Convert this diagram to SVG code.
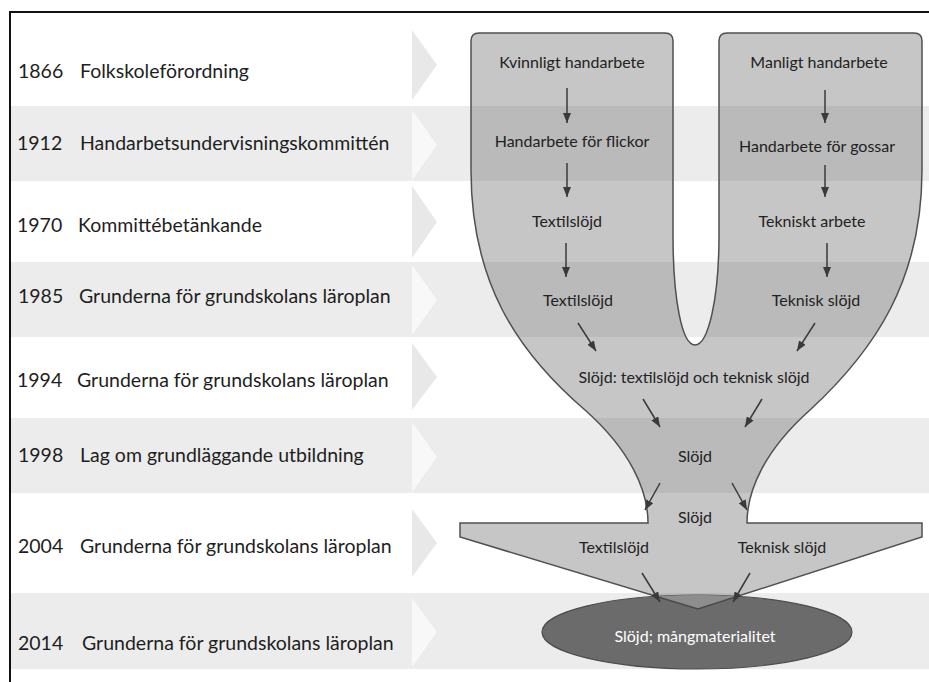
<svg xmlns="http://www.w3.org/2000/svg" width="929" height="682" viewBox="0 0 929 682">
<style>
.band{fill:#ececec}
.chevW{fill:#e8e8e8}
.chevG{fill:#f8f8f8}
.lbl{font-family:Lato,"Liberation Sans",sans-serif;font-size:19.5px;fill:#1e1e1e}
.ft{font-family:Lato,"Liberation Sans",sans-serif;font-size:16px;fill:#222222;text-anchor:middle}
.arr{stroke:#3a3a3a;stroke-width:1.5;fill:none;marker-end:url(#ah)}
</style>
<defs>
<marker id="ah" markerUnits="userSpaceOnUse" markerWidth="10" markerHeight="8" refX="10" refY="4" orient="auto" viewBox="0 0 10 8">
<path d="M0,0 L10,4 L0,8 Z" fill="#3a3a3a"/>
</marker>
<clipPath id="ellClip"><ellipse cx="697" cy="632" rx="155" ry="37"/></clipPath>
<path id="funnelShape" d="M471,41 Q471,33 479,33 L665,33 Q673,33 673,41 L673,235 C673,300 682,345 695,345 C708,345 719,300 719,235 L719,41 Q719,33 727,33 L914,33 Q922,33 922,41 L922,170 C922,280 875,350 810,410 C765,450 747,490 747,523 L922,523 L922,537 L698,609 L460,537 L460,523 L648,523 C648,490 630,450 585,410 C515,350 471,280 471,170 Z"/>
</defs>
<rect x="0" y="0" width="929" height="682" fill="#ffffff"/>
<g id="bands">
<rect class="band" x="11" y="106" width="918" height="75"/>
<rect class="band" x="11" y="262" width="918" height="75"/>
<rect class="band" x="11" y="418" width="918" height="75"/>
<rect class="band" x="11" y="593" width="918" height="76"/>
<polygon class="chevW" points="412,30 437,65 412,100"/>
<polygon class="chevG" points="412,110 437,145 412,180"/>
<polygon class="chevW" points="412,186 437,222 412,258"/>
<polygon class="chevG" points="412,265 437,300 412,335"/>
<polygon class="chevW" points="412,343 437,377 412,410"/>
<polygon class="chevG" points="412,422 437,457 412,492"/>
<polygon class="chevW" points="412,509 437,543 412,577"/>
<polygon class="chevG" points="412,598 437,632 412,667"/>
</g>
<g id="frame">
<path d="M10,682 L10,12 L929,12" fill="none" stroke="#111" stroke-width="2"/>
</g>
<g id="row1866"><text class="lbl" x="18" y="78">1866</text><text class="lbl" x="80" y="78">Folkskoleförordning</text></g>
<g id="row1912"><text class="lbl" x="17" y="150">1912</text><text class="lbl" x="80" y="150">Handarbetsundervisningskommittén</text></g>
<g id="row1970"><text class="lbl" x="17" y="232">1970</text><text class="lbl" x="78" y="232">Kommittébetänkande</text></g>
<g id="row1985"><text class="lbl" x="18" y="303">1985</text><text class="lbl" x="79" y="303">Grunderna för grundskolans läroplan</text></g>
<g id="row1994"><text class="lbl" x="17" y="387">1994</text><text class="lbl" x="77" y="387">Grunderna för grundskolans läroplan</text></g>
<g id="row1998"><text class="lbl" x="18" y="462">1998</text><text class="lbl" x="80" y="462">Lag om grundläggande utbildning</text></g>
<g id="row2004"><text class="lbl" x="18" y="553">2004</text><text class="lbl" x="80" y="553">Grunderna för grundskolans läroplan</text></g>
<g id="row2014"><text class="lbl" x="18" y="650">2014</text><text class="lbl" x="82" y="650">Grunderna för grundskolans läroplan</text></g>
<g id="funnel">
<use href="#funnelShape" fill="#707070" fill-opacity="0.4" stroke="#505050" stroke-width="1.5"/>
</g>
<g id="result">
<ellipse cx="697" cy="632" rx="155" ry="37" fill="#6b6b6b" stroke="#4e4e4e" stroke-width="1.2"/>
<use href="#funnelShape" clip-path="url(#ellClip)" fill="#8d8d8d" stroke="#4a4a4a" stroke-width="1.5"/>
<text class="ft" x="695" y="642" style="fill:#ffffff">Slöjd; mångmaterialitet</text>
</g>
<g id="n-kvinnligt"><text class="ft" x="572" y="68">Kvinnligt handarbete</text></g>
<g id="n-manligt"><text class="ft" x="819" y="68">Manligt handarbete</text></g>
<g id="n-flickor"><text class="ft" x="572" y="147">Handarbete för flickor</text></g>
<g id="n-gossar"><text class="ft" x="817" y="152">Handarbete för gossar</text></g>
<g id="n-textil1970"><text class="ft" x="567" y="227">Textilslöjd</text></g>
<g id="n-tekniskt"><text class="ft" x="812" y="227">Tekniskt arbete</text></g>
<g id="n-textil1985"><text class="ft" x="578" y="306">Textilslöjd</text></g>
<g id="n-teknisk1985"><text class="ft" x="816" y="306">Teknisk slöjd</text></g>
<g id="n-slojd1994"><text class="ft" x="694" y="383">Slöjd: textilslöjd och teknisk slöjd</text></g>
<g id="n-slojd1998"><text class="ft" x="695" y="462">Slöjd</text></g>
<g id="n-slojd2004"><text class="ft" x="695" y="523">Slöjd</text></g>
<g id="n-textil2004"><text class="ft" x="614" y="553">Textilslöjd</text></g>
<g id="n-teknisk2004"><text class="ft" x="782" y="553">Teknisk slöjd</text></g>
<g id="connectors">
<line class="arr" x1="567" y1="88" x2="567" y2="123"/>
<line class="arr" x1="825" y1="90" x2="825" y2="123"/>
<line class="arr" x1="567" y1="163" x2="567" y2="197"/>
<line class="arr" x1="825" y1="165" x2="825" y2="197"/>
<line class="arr" x1="566" y1="243" x2="566" y2="277"/>
<line class="arr" x1="827" y1="243" x2="827" y2="277"/>
<line class="arr" x1="578" y1="323" x2="596" y2="351"/>
<line class="arr" x1="815" y1="323" x2="797" y2="351"/>
<line class="arr" x1="643" y1="399" x2="660" y2="427"/>
<line class="arr" x1="762" y1="399" x2="745" y2="427"/>
<line class="arr" x1="660" y1="483" x2="645" y2="510"/>
<line class="arr" x1="732" y1="483" x2="747" y2="510"/>
<line class="arr" x1="642" y1="573" x2="660" y2="602"/>
<line class="arr" x1="750" y1="573" x2="733" y2="602"/>
</g>
</svg>
